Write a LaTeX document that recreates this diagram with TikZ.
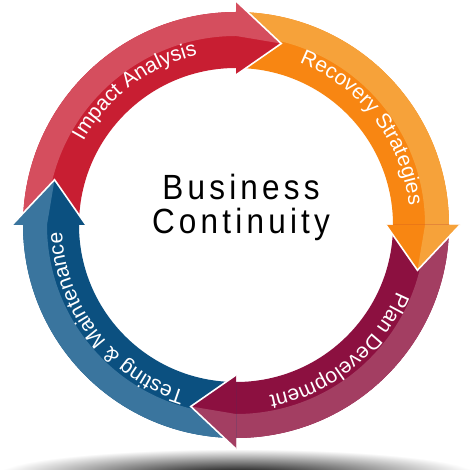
\documentclass[tikz,border=0pt]{standalone}
\usepackage{fontspec}
\setmainfont{Liberation Sans}
\newfontfamily\titulofont[FakeStretch=0.9,LetterSpace=12]{Liberation Sans}
\usetikzlibrary{decorations.text}

\definecolor{rojoC}{HTML}{D54E5E}
\definecolor{rojoO}{HTML}{C81E32}
\definecolor{naranjaC}{HTML}{F6A23A}
\definecolor{naranjaO}{HTML}{F88612}
\definecolor{granateC}{HTML}{A33E62}
\definecolor{granateO}{HTML}{8C1040}
\definecolor{azulC}{HTML}{3A759E}
\definecolor{azulO}{HTML}{0B5080}

% radios del anillo
\def\rout{213pt}
\def\rin{157pt}
\def\rmid{189pt}
\def\rtip{187pt}
\def\rbout{224pt}
\def\rbin{150pt}
\def\rtxt{174pt}

\begin{document}
\begin{tikzpicture}[
		x=1pt, y=1pt,
		rotulo/.style={decorate, decoration={text along path, text align=center,
				text color=white, text={|\fontsize{21}{21}\selectfont|#1}}},
		filo/.style={draw=white, line width=1.6pt, line join=miter}
	]
	\useasboundingbox (-236,-245) rectangle (234,225);
	% Sombra
	\shade[inner color=black, outer color=white] (1,-250) ellipse [x radius=240, y radius=26];
	% Cuerpos de las flechas
	\foreach \a/\cl/\cd in {180/rojoC/rojoO, 90/naranjaC/naranjaO, 0/granateC/granateO, -90/azulC/azulO}{
		\pgfmathsetmacro\b{\a-90}
		\fill[\cd] (\a:\rout) arc[start angle=\a, end angle=\b, radius=\rout]
			-- (\b:\rin) arc[start angle=\b, end angle=\a, radius=\rin] -- cycle;
		\fill[\cl] (\a:\rout) arc[start angle=\a, end angle=\b, radius=\rout]
			-- (\b:\rmid) arc[start angle=\b, end angle=\a, radius=\rmid] -- cycle;
	}
	% Puntas
	\foreach \b/\cl/\cd in {90/rojoC/rojoO, 0/naranjaC/naranjaO, -90/granateC/granateO, -180/azulC/azulO}{
		\pgfmathsetmacro\t{\b-14}
		\fill[\cd] (\b:\rbout) -- (\t:\rtip) -- (\b:\rbin) -- cycle;
		\fill[\cl] (\b:\rbout) -- (\t:\rtip) -- (\b:\rmid) -- cycle;
		\draw[filo] (\b:\rbout) -- (\t:\rtip) -- (\b:\rbin);
	}
	% Rotulos
	\path[rotulo={Impact Analysis}] (167:\rtxt) arc[start angle=167, end angle=87, radius=\rtxt];
	\path[rotulo={Recovery Strategies}] (77.5:\rtxt) arc[start angle=77.5, end angle=-2.5, radius=\rtxt];
	\path[rotulo={Plan Development}] (-10.75:\rtxt) arc[start angle=-10.75, end angle=-90.75, radius=\rtxt];
	\path[rotulo={Testing {\&} Maintenance}] (-102.25:\rtxt) arc[start angle=-102.25, end angle=-182.25, radius=\rtxt];
	% Centro
	\node[font=\titulofont\fontsize{35}{34}\selectfont, align=center, inner sep=0pt] (titulo) at (5,17.8) {Business\\Continuity};
\end{tikzpicture}
\end{document}
